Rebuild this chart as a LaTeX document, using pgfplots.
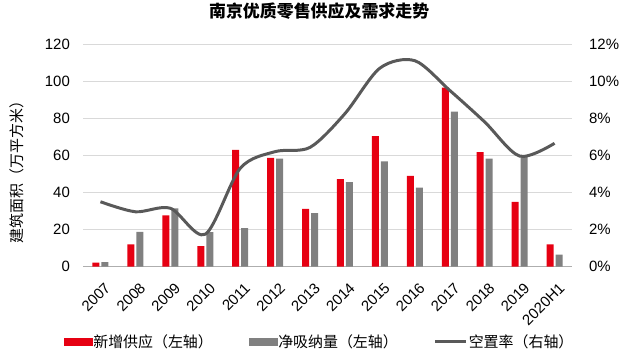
\documentclass[border=0pt]{standalone}
\usepackage{pgfplots}
\pgfplotsset{compat=1.18}
\usepackage{fontspec}
\setmainfont{Liberation Sans}
\newfontfamily\cjk{Noto Sans CJK SC}
\definecolor{cred}{HTML}{E60012}
\definecolor{cgrey}{HTML}{808080}
\definecolor{cline}{HTML}{595959}
\definecolor{cgrid}{HTML}{D9D9D9}
\pgfplotstableread{
x supply absorb vac
0 2.2 2.5 3.5
1 12.0 18.7 2.96
2 27.7 31.4 3.15
3 11.1 18.6 1.75
4 62.9 20.8 5.3
5 58.7 58.2 6.2
6 31.1 28.9 6.43
7 47.2 45.6 8.25
8 70.4 56.8 10.7
9 48.9 42.6 11.1
10 96.5 83.5 9.5
11 61.8 58.2 7.8
12 34.9 59.6 5.96
13 12.0 6.5 6.65
}\data
\begin{document}
\fontsize{15}{18}\selectfont
\begin{tikzpicture}
\useasboundingbox (0,0) rectangle (640bp,364bp);
\begin{axis}[
  at={(83bp,97.3bp)}, anchor=south west,
  scale only axis, width=489bp, height=222.7bp,
  xmin=-0.5, xmax=13.5, ymin=0, ymax=120,
  ytick={0,20,...,120},
  xtick={0,...,13},
  xticklabels={2007,2008,2009,2010,2011,2012,2013,2014,2015,2016,2017,2018,2019,2020H1},
  x tick label style={rotate=45, anchor=north east, font=\fontsize{15}{18}\selectfont, inner sep=1pt, xshift=-7bp, yshift=-12bp},
  y tick label style={font=\fontsize{15}{18}\selectfont},
  /pgf/number format/assume math mode=true,
  major tick length=0pt,
  ymajorgrids, grid style={draw=cgrid, line width=0.8pt},
  axis x line*=bottom, axis y line*=left,
  x axis line style={draw=cgrid!80!black, line width=0.8pt, -},
  y axis line style={draw=none},
  ylabel={\cjk 建筑面积（万平方米）},
  ylabel style={at={(axis description cs:-0.135,0.44)}, anchor=center, font=\fontsize{15}{18}\selectfont},
  yticklabel style={xshift=-8bp},
  title={\cjk\bfseries 南京优质零售供应及需求走势},
  title style={at={(axis description cs:0.483,1.12)}, anchor=center, font=\fontsize{17}{20}\selectfont},
  clip=false,
]
\addplot[ybar, bar width=7bp, bar shift=-4.5bp, fill=cred, draw=none] table[x=x,y=supply]{\data};
\addplot[ybar, bar width=7bp, bar shift=4.5bp, fill=cgrey, draw=none] table[x=x,y=absorb]{\data};
\end{axis}
\begin{axis}[
  at={(83bp,97.3bp)}, anchor=south west,
  scale only axis, width=489bp, height=222.7bp,
  xmin=-0.5, xmax=13.5, ymin=0, ymax=12,
  ytick={0,2,...,12},
  yticklabel={\pgfmathprintnumber{\tick}\%},
  y tick label style={font=\fontsize{15}{18}\selectfont, xshift=12bp},
  /pgf/number format/assume math mode=true,
  xtick=\empty,
  major tick length=0pt,
  axis x line=none, axis y line*=right,
  y axis line style={draw=none},
  legend style={at={(axis description cs:-0.039,-0.3375)}, anchor=west, draw=none, fill=none,
    inner sep=0pt, outer sep=0pt,
    legend columns=3, font=\cjk\fontsize{15}{18}\selectfont,
    nodes={inner xsep=1pt},
    /tikz/every even column/.append style={column sep=35bp}},
  legend cell align=left,
  clip=false,
]
\addlegendimage{legend image code/.code={\fill[cred] (0bp,-3.5bp) rectangle (28bp,3.5bp);}}
\addlegendentry{新增供应（左轴）}
\addlegendimage{legend image code/.code={\fill[cgrey] (0bp,-3.5bp) rectangle (28bp,3.5bp);}}
\addlegendentry{净吸纳量（左轴）}
\addplot[cline, line width=3pt, smooth, no marks,
  legend image code/.code={\draw[cline, line width=3pt] (0bp,0bp) -- (31bp,0bp);}] table[x=x,y=vac]{\data};
\addlegendentry{空置率（右轴）}
\end{axis}
\end{tikzpicture}
\end{document}
